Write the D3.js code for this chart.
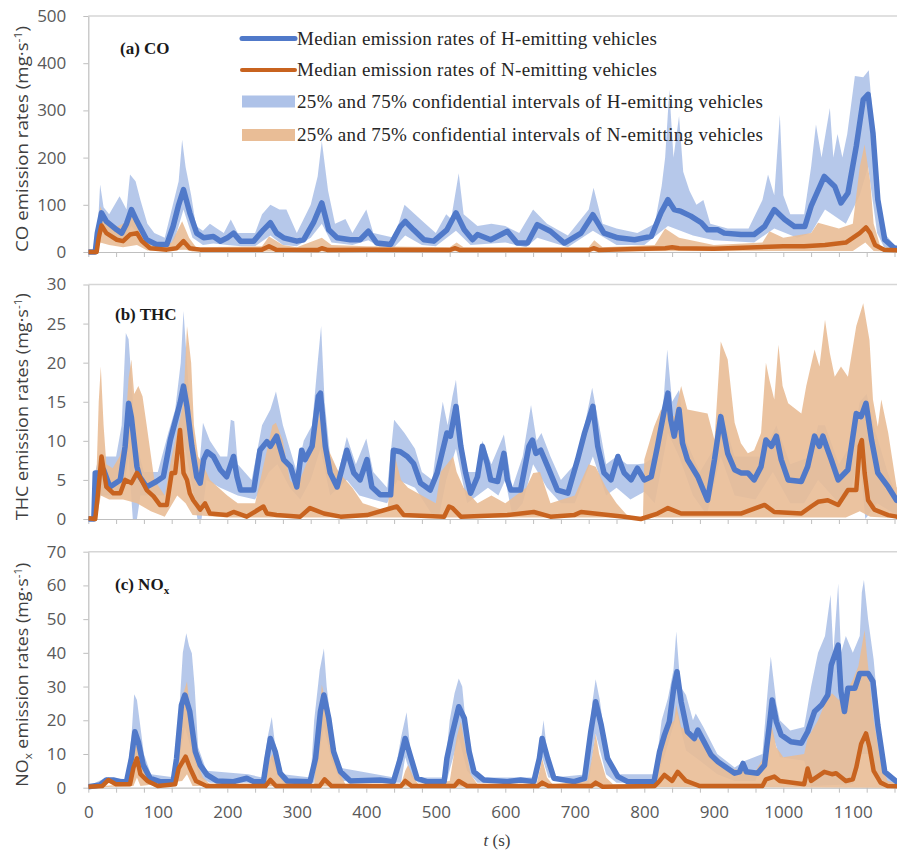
<!DOCTYPE html>
<html>
<head>
<meta charset="utf-8">
<script src="https://cdn.jsdelivr.net/npm/d3@7/dist/d3.min.js"></script>
<style>
  body { margin: 0; background: #fff; }
  svg { display: block; }
</style>
</head>
<body>
<svg id="chart" width="897" height="851"></svg>
<script>
// ── Data: [t (s), rate (mg/s)] ──────────────────────────────────────────

// (a) CO
const coHMed = [[0,0],[10,0],[13,40],[19,83],[26,65],[41,47],[48,40],[55,60],[62,90],[70,65],[84,26],[98,16],[113,16],[122,54],[130,100],[137,132],[146,83],[156,40],[166,30],[180,33],[190,23],[200,30],[209,40],[219,23],[238,23],[252,47],[262,62],[271,40],[281,30],[300,23],[310,26],[324,62],[336,104],[346,47],[358,30],[377,26],[391,26],[403,44],[415,19],[435,16],[449,54],[456,65],[468,47],[483,26],[497,23],[516,47],[529,83],[541,47],[553,26],[560,37],[579,26],[603,44],[617,19],[632,19],[646,58],[665,44],[685,19],[709,40],[726,79],[742,40],[762,30],[786,26],[810,33],[824,83],[834,111],[843,90],[853,86],[867,76],[882,62],[891,47],[906,47],[915,40],[939,37],[958,37],[973,54],[987,90],[1002,69],[1016,54],[1031,54],[1040,97],[1059,160],[1074,139],[1083,104],[1093,125],[1105,224],[1115,323],[1122,334],[1129,252],[1136,111],[1146,26],[1160,8],[1180,5]];
const coHHi = [[0,0],[10,0],[14,60],[17,143],[22,95],[30,80],[45,118],[55,90],[60,164],[68,150],[75,110],[85,60],[95,40],[110,30],[120,90],[130,150],[135,238],[140,180],[148,120],[155,55],[165,45],[175,60],[185,50],[195,40],[205,69],[215,40],[240,40],[250,80],[262,100],[275,90],[285,90],[300,40],[320,100],[330,160],[336,235],[345,130],[355,60],[370,70],[380,40],[400,90],[410,40],[440,30],[455,100],[470,80],[485,60],[500,40],[515,80],[522,70],[533,167],[540,80],[560,55],[580,60],[600,55],[620,40],[640,90],[660,60],[690,35],[720,90],[727,136],[740,60],[760,50],[790,40],[815,60],[825,140],[830,200],[836,344],[842,200],[850,288],[856,170],[865,130],[875,100],[885,110],[895,60],[920,50],[950,50],[970,110],[978,164],[987,120],[995,291],[1000,120],[1010,80],[1030,80],[1040,180],[1047,270],[1055,200],[1067,305],[1072,200],[1078,250],[1085,200],[1092,250],[1103,373],[1115,370],[1123,385],[1128,300],[1135,150],[1145,40],[1160,15],[1180,10]];
const coHLo = [[0,0],[12,0],[17,50],[25,40],[40,30],[50,25],[62,55],[70,40],[85,12],[100,8],[115,8],[125,30],[137,90],[150,30],[165,15],[180,18],[200,15],[220,12],[240,12],[262,35],[280,15],[300,12],[320,30],[336,60],[350,20],[380,15],[403,25],[420,10],[440,10],[456,35],[480,15],[500,12],[529,45],[550,15],[600,20],[630,10],[646,30],[690,10],[726,45],[760,15],[800,15],[834,55],[870,35],[900,25],[958,20],[987,50],[1020,30],[1040,40],[1060,90],[1090,60],[1110,120],[1122,180],[1135,40],[1145,10],[1165,3],[1180,2]];
const coNMed = [[0,0],[12,0],[15,30],[19,56],[26,40],[41,26],[50,23],[60,37],[70,40],[77,23],[89,8],[113,5],[127,8],[137,23],[146,8],[161,5],[250,5],[260,12],[270,5],[330,4],[336,8],[345,4],[405,5],[520,4],[528,8],[535,4],[720,4],[727,8],[735,4],[830,8],[840,10],[850,8],[900,7],[1000,12],[1030,12],[1060,15],[1090,20],[1100,30],[1110,40],[1119,52],[1125,40],[1132,15],[1145,5],[1180,3]];
const coNHi = [[0,0],[12,0],[14,40],[17,97],[25,70],[35,50],[50,60],[60,75],[67,79],[75,50],[85,20],[100,10],[120,20],[135,65],[145,30],[155,10],[250,12],[260,33],[280,15],[300,10],[336,30],[350,15],[400,12],[520,10],[530,20],[540,10],[720,10],[728,25],[740,10],[815,15],[830,50],[850,30],[900,15],[970,20],[980,44],[1000,30],[1040,40],[1050,62],[1080,50],[1100,60],[1110,180],[1117,228],[1125,150],[1130,60],[1140,10],[1180,5]];
const coNLo = [[0,0],[12,0],[17,20],[30,15],[50,10],[70,15],[85,3],[140,5],[150,1],[1100,2],[1118,20],[1130,2],[1180,0]];

// (b) THC
const thcHMed = [[0,0],[8,0],[10,5.9],[17,5.9],[22,6.3],[31,4.1],[46,5],[53,9.3],[58,14.8],[62,13],[70,6.7],[74,5.4],[84,4.1],[98,4.8],[108,5.4],[118,10.1],[132,14.8],[137,17],[142,14.4],[149,9.3],[156,5.4],[161,4.6],[166,7.6],[171,8.6],[180,8],[190,6.3],[199,5.4],[209,8],[214,5.4],[219,3.7],[238,3.7],[247,8.8],[257,9.9],[262,9.3],[271,10.6],[281,7.6],[291,6.7],[300,4.1],[307,8.8],[312,7.6],[322,9.3],[331,15.7],[334,16.1],[341,9.3],[348,5.9],[358,4.1],[372,8.8],[382,5.9],[391,5],[401,7.6],[408,4.1],[420,3.1],[435,3.1],[439,8.8],[449,8.6],[459,8],[468,7.1],[478,4.6],[492,3.7],[502,5.9],[516,11],[521,10.6],[529,14.4],[536,9.3],[543,5.9],[550,3.3],[560,5.4],[567,9.3],[574,7.1],[579,5],[589,4.8],[598,8.4],[603,5],[608,3.7],[622,3.7],[634,9.3],[639,10.1],[644,8.4],[651,8.8],[661,6.7],[675,3.7],[690,3.3],[704,7.6],[714,11],[726,14.4],[733,9.3],[742,5.9],[752,5],[762,8],[771,5.9],[781,5],[790,6.5],[800,5],[810,5.4],[819,9.3],[829,14],[834,16.1],[838,12.7],[843,10.6],[850,14],[855,9.7],[862,7.6],[877,5.4],[891,2.4],[901,7.6],[910,13.1],[920,8.4],[930,6.3],[939,5.9],[949,5.9],[958,5],[968,6.7],[975,10.1],[983,9.3],[990,10.6],[997,7.6],[1007,5],[1026,4.8],[1035,6.7],[1045,10.6],[1052,9.3],[1057,10.6],[1064,8.8],[1069,7.6],[1079,5],[1093,6.3],[1105,13.5],[1112,13.1],[1119,14.8],[1127,10.1],[1136,5.9],[1151,4.1],[1163,2.4],[1180,2]];
const thcHHi = [[0,0],[8,0],[10,6],[15,8],[40,8],[48,12],[54,23.8],[58,23],[62,18],[68,10],[80,6],[100,6],[115,11],[125,14],[133,20],[137,26.6],[142,20],[150,10],[160,7],[165,12.3],[175,10],[190,8],[200,8],[205,12.7],[210,12.5],[215,7],[235,5],[250,12],[262,14],[270,16.3],[280,12],[290,9],[300,6],[310,10],[322,12],[330,20],[335,24.7],[340,15],[348,8],[360,6],[372,10.5],[385,7],[400,10.3],[410,6],[430,4],[440,12.7],[455,11],[470,9],[480,6],[495,5],[505,12],[510,15],[517,12],[524,15.7],[529,17.8],[535,12],[545,6],[560,6],[567,10],[580,7],[598,10.8],[610,4],[625,8],[637,14.6],[645,10],[652,11],[665,8],[680,5],[700,7],[712,11],[725,16.8],[735,12],[745,7],[760,8],[775,7],[790,7],[800,7.1],[815,8],[825,12],[833,21.7],[840,15],[850,16.5],[860,10],[880,6],[900,9],[910,14],[930,8],[970,8],[990,12],[1010,7],[1040,8],[1050,12],[1060,12],[1080,7],[1100,10],[1110,15],[1120,16],[1130,12],[1150,6],[1163,3],[1180,2.5]];
const thcHLo = [[0,0],[8,0],[10,3],[30,3],[50,3],[58,8],[64,0],[70,0],[75,3],[90,3],[110,3],[125,6],[137,10],[150,4],[157,0],[163,0],[170,5],[190,4],[215,3],[240,2.5],[260,6],[272,7],[290,4],[305,2.5],[320,5],[334,9],[348,3],[372,5],[390,3],[410,2.5],[430,2],[445,5],[470,4],[495,0.5],[505,0.5],[515,5],[529,9],[545,2],[560,3],[575,4],[590,3],[600,5],[610,0.5],[625,2],[640,7],[660,4],[680,2],[700,2],[726,8],[745,3],[760,4],[780,2.5],[800,3.5],[815,2],[834,11],[850,8],[870,3],[890,0.5],[910,8],[930,3],[960,2.5],[985,6],[1010,2],[1030,2],[1050,5],[1080,2],[1095,3],[1110,8],[1118,0],[1135,2],[1163,0.5],[1180,0.3]];
const thcNMed = [[0,0.1],[10,0],[14,3.3],[19,8],[26,4.1],[36,3.3],[46,3.3],[53,5],[62,4.6],[70,5.9],[74,5.4],[84,3.7],[94,2.9],[103,1.8],[113,1.8],[120,5.9],[125,5.9],[132,11.4],[137,5.9],[142,5],[146,3.3],[151,2.4],[161,1.2],[168,2],[175,0.7],[199,0.5],[209,0.9],[228,0.3],[252,1.6],[257,0.7],[271,0.5],[305,0.3],[319,1.4],[339,0.7],[363,0.3],[401,0.5],[444,1.6],[454,0.5],[512,0.3],[519,1.6],[524,1.4],[536,0.3],[603,0.5],[641,0.9],[665,0.3],[699,0.5],[709,0.9],[771,0.3],[795,0],[819,0.7],[834,1.4],[853,0.7],[939,0.7],[973,1.8],[987,0.9],[1026,0.7],[1040,1.6],[1050,2.2],[1064,2.4],[1079,1.8],[1093,3.7],[1105,3.7],[1110,9.3],[1113,10.1],[1117,5.9],[1122,2.4],[1131,1.2],[1151,0.5],[1163,0.3],[1180,0.3]];
const thcNHi = [[0,0],[10,0.5],[15,15],[18,19.5],[22,12],[26,7],[35,6.5],[45,8],[52,10],[58,18],[62,20.4],[66,16],[72,17],[78,15.7],[84,12],[95,5],[110,3],[120,8],[130,12],[137,15],[142,24.7],[148,20],[152,12],[158,8],[165,7],[175,5],[200,3],[215,2],[240,2],[255,8],[265,12],[270,12.3],[280,10],[290,5],[300,4],[318,8],[325,10],[334,14],[345,9],[360,6],[380,4],[395,2],[430,1],[440,8.4],[450,5],[460,4],[500,2],[507,6],[525,8],[530,6],[540,4],[560,2],[580,3],[600,2],[630,4],[640,5.9],[650,6],[665,2],[700,3],[720,7],[730,6.7],[745,4],[760,2],[775,0.5],[798,0],[800,7.6],[814,11.8],[824,14],[843,13.1],[853,17],[862,14],[891,13.5],[901,10.1],[910,22.7],[920,20.4],[930,12.3],[939,9.7],[949,8.4],[958,8.8],[968,11],[975,20],[980,17.8],[987,15.3],[993,22.3],[999,17],[1007,14.8],[1026,13.5],[1033,17],[1045,21.7],[1052,19.5],[1060,25.5],[1067,21.2],[1074,18.2],[1083,19.5],[1093,18.2],[1105,24.7],[1115,27.6],[1124,22.9],[1129,15.3],[1136,11.8],[1141,15.3],[1151,11],[1163,4.1],[1180,2]];
const thcNLo = [[0,0],[12,0],[18,3],[30,2.5],[50,2.5],[70,2],[90,1],[110,0.3],[128,3],[140,2],[150,0.5],[200,0.2],[1090,0.2],[1110,1],[1125,0.3],[1180,0]];

// (c) NOx
const noxHMed = [[0,0.3],[17,0.8],[26,2.3],[36,2.3],[46,1.8],[55,1.8],[62,8.7],[67,16.6],[72,13.6],[79,6.7],[89,2.8],[103,1.8],[122,1.8],[127,8.7],[134,24.5],[139,27.5],[146,22.6],[154,10.7],[161,6.7],[171,3.8],[185,2],[209,1.8],[228,2.8],[238,1.8],[252,1.8],[257,8.7],[262,14.6],[269,10.7],[276,4.3],[286,2],[319,1.8],[327,8.7],[334,22.6],[339,27.5],[346,20.6],[353,10.7],[363,4.7],[377,2],[420,2.3],[439,1.8],[449,8.7],[456,14.6],[463,9.7],[473,2.8],[487,1.8],[512,1.8],[516,8.7],[522,14.6],[533,24],[541,20.6],[548,10.7],[555,4.7],[569,2.3],[603,1.8],[622,2.3],[641,1.8],[649,8.7],[653,14.6],[661,8.7],[670,2.8],[699,1.8],[714,2.8],[723,16.6],[730,25.5],[738,18.6],[747,8.7],[762,3.3],[776,1.8],[814,1.8],[822,10.7],[829,15.6],[836,19.6],[843,30.5],[847,34.4],[853,25.5],[862,16.6],[872,14.6],[877,17.1],[886,13.6],[896,9.7],[906,7.7],[920,5.7],[930,4.3],[937,4.7],[942,7.2],[947,4.7],[963,4.3],[973,6.7],[980,18.6],[984,26],[990,19.6],[997,15.6],[1011,13.6],[1026,13.2],[1035,16.6],[1045,22.6],[1055,24.5],[1064,27.5],[1069,36.4],[1079,42.3],[1083,28.5],[1088,22.6],[1093,29.5],[1103,29.5],[1110,33.9],[1122,33.9],[1129,31.5],[1136,18.6],[1146,4.7],[1163,1.8],[1180,1.5]];
const noxHHi = [[0,0.5],[26,3],[55,2.5],[62,15],[66,27.7],[70,26],[75,18],[80,10],[90,4],[125,3],[130,20],[136,40],[141,45.8],[145,42],[149,39.9],[153,30],[158,12],[170,5],[230,4],[250,3],[258,15],[264,21],[268,14],[280,4],[320,3],[325,20],[333,35],[339,41.3],[343,30],[350,18],[360,6],[440,3],[450,15],[458,22.4],[463,12],[475,3],[512,3],[520,20],[527,28],[533,32.4],[538,30],[545,15],[560,3],[645,3],[650,12],[655,20],[660,11],[670,3],[718,4],[725,25],[730,32.2],[736,26],[745,12],[760,4],[815,4],[825,20],[834,26.5],[842,35],[846,46.3],[852,30],[860,27.5],[870,20],[874,22],[885,18],[895,14],[905,10],[930,6],[945,8],[970,10],[978,30],[982,38.9],[990,25],[995,20],[1010,17],[1030,18],[1040,30],[1050,40],[1060,45],[1068,57.2],[1072,40],[1079,60.6],[1083,40],[1090,45],[1100,40],[1110,45],[1113,58],[1116,61.6],[1122,50],[1130,38],[1138,20],[1148,5],[1163,2],[1180,1.8]];
const noxHLo = [[0,0],[26,1.5],[60,1.5],[67,10],[72,8],[80,3],[90,1.5],[125,1.5],[139,18],[150,10],[160,3],[175,1.5],[255,1.5],[262,9],[270,5],[280,1.5],[325,1.5],[339,18],[350,8],[363,2],[450,1.5],[456,9],[465,3],[475,1.5],[515,1.5],[533,15],[545,5],[560,1.5],[645,1.5],[653,9],[662,3],[720,1.5],[730,16],[745,4],[760,1.5],[815,1.5],[830,10],[847,22],[860,11],[880,8],[905,4],[930,2],[960,2],[984,16],[995,9],[1030,8],[1040,0.5],[1100,1],[1110,10],[1125,10],[1140,2],[1163,0.5],[1180,0.3]];
const noxNMed = [[0,0.3],[20,0.5],[29,2.3],[40,1],[60,1],[65,6],[70,8.7],[75,4],[85,2],[100,0.5],[125,1],[130,5.7],[140,9.2],[146,6],[155,2],[170,0.5],[255,0.5],[262,2.3],[270,0.5],[333,0.5],[340,2.5],[350,0.5],[450,0.5],[456,2],[465,0.5],[527,0.5],[533,2],[545,0.5],[647,0.5],[653,1.5],[662,0.5],[724,0.5],[730,1.5],[740,0.3],[815,0.5],[822,2],[829,3.8],[840,2],[848,4.7],[860,2],[880,0.5],[970,0.5],[975,2.5],[987,3.3],[995,2],[1030,1],[1035,5.7],[1040,2],[1059,4.7],[1070,4],[1076,4.3],[1090,2],[1100,2.5],[1105,6],[1112,13],[1119,16.1],[1124,12],[1130,5],[1140,1.5],[1150,0.5],[1180,0.3]];
const noxNHi = [[0,0.3],[60,1],[65,10],[70,13.2],[75,9],[85,4],[100,1],[125,2],[130,10],[137,28],[142,31.5],[148,20],[155,8],[165,3],[175,1],[255,1],[260,8],[265,10],[272,7],[280,2],[325,1],[330,15],[336,30.5],[342,25],[350,12],[360,5],[370,1],[450,1],[456,5],[460,6.7],[468,3],[475,1],[520,2],[530,15],[536,19.6],[540,15],[550,4],[560,1],[645,1],[653,8.7],[660,3],[668,1],[718,2],[724,8],[730,16.1],[735,10],[745,3],[755,1],[815,1],[818,3],[824,12.2],[836,18.6],[843,20],[846,24.5],[853,18],[860,17],[875,15],[890,12],[900,10],[920,6],[940,5],[960,5],[975,10],[982,19.6],[990,12],[1000,9],[1030,10],[1035,14.6],[1050,20],[1060,25],[1070,28],[1080,26],[1090,28],[1100,32],[1108,36],[1117,46.8],[1120,40],[1125,30],[1130,20],[1140,8],[1150,2],[1180,0.5]];
const noxNLo = [[0,0],[65,0.5],[70,3],[75,0.5],[135,2],[142,4],[150,0.5],[1180,0]];

// Tick values
const xTickMarks = [0,40,80,120,160,200,240,280,320,360,400,440,480,520,560,600,640,680,720,760,800,840,880,920,960,1000,1040,1080,1120,1160];
const xTickLabels = [0,100,200,300,400,500,600,700,800,900,1000,1100];
const coTicks = [0,100,200,300,400,500];
const thcTicks = [0,5,10,15,20,25,30];
const noxTicks = [0,10,20,30,40,50,60,70];

const legendItems = [
  'Median emission rates of H-emitting vehicles',
  'Median emission rates of N-emitting vehicles',
  '25% and 75% confidential intervals of H-emitting vehicles',
  '25% and 75% confidential intervals of N-emitting vehicles'
];

// ── Styling / layout ─────────────────────────────────────────────────────
const C = {
  hLine: '#5079c9', hBand: '#aec2e8',
  nLine: '#c8631f', nBand: '#e9bd96',
  axis: '#bfbfbf', tick: '#595959', title: '#404040'
};
const X0 = 88.3, PX_PER_S = 0.695;

const svg = d3.select('#chart');
const x = d3.scaleLinear().domain([0, 1180]).range([X0, X0 + 1180 * PX_PER_S]);

const panels = [
  { top: 16, bottom: 252, ticks: coTicks, label: [['(a) CO', '']], lx: 120, ly: 54,
    title: [['CO emission rates (mg·s', ''], ['-1', 'sup'], [')', '']], tLen: 226,
    hMed: coHMed, hHi: coHHi, hLo: coHLo, nMed: coNMed, nHi: coNHi, nLo: coNLo },
  { top: 284.5, bottom: 519, ticks: thcTicks, label: [['(b) THC', '']], lx: 115, ly: 320,
    title: [['THC emission rates (mg·s', ''], ['-1', 'sup'], [')', '']], tLen: 227,
    hMed: thcHMed, hHi: thcHHi, hLo: thcHLo, nMed: thcNMed, nHi: thcNHi, nLo: thcNLo },
  { top: 551.7, bottom: 787.7, ticks: noxTicks, label: [['(c) NO', ''], ['x', 'sub']], lx: 115, ly: 590,
    title: [['NO', ''], ['x', 'sub'], [' emission rates (mg·s', ''], ['-1', 'sup'], [')', '']], tLen: 224,
    hMed: noxHMed, hHi: noxHHi, hLo: noxHLo, nMed: noxNMed, nHi: noxNHi, nLo: noxNLo }
];

// text runs with super/subscripts; the shift is undone on the following run
function addRuns(sel, parts, size) {
  let undo = 0;
  parts.forEach(([txt, kind]) => {
    const t = sel.append('tspan').text(txt);
    let shift = 0;
    if (kind === 'sup') shift = -size * 0.38;
    if (kind === 'sub') shift = size * 0.25;
    if (kind) t.attr('font-size', size * 0.65);
    if (shift + undo !== 0) t.attr('dy', shift + undo);
    undo = -shift;
  });
}

panels.forEach((p, i) => {
  const y = d3.scaleLinear().domain([0, d3.max(p.ticks)]).range([p.bottom, p.top]);
  const g = svg.append('g');

  // frame: top border, axes
  g.append('line')
    .attr('x1', X0).attr('x2', 897).attr('y1', p.top).attr('y2', p.top)
    .attr('stroke', '#d6d6d6').attr('stroke-width', 1.5);

  const yAx = g.append('g').attr('transform', `translate(${X0},0)`)
    .call(d3.axisLeft(y).tickValues(p.ticks).tickSize(5).tickPadding(17).tickSizeOuter(0));
  const xAx = g.append('g').attr('transform', `translate(0,${p.bottom})`)
    .call(d3.axisBottom(x).tickValues(xTickMarks).tickSize(5).tickFormat('').tickSizeOuter(0));
  xAx.selectAll('.tick text').remove();
  [yAx, xAx].forEach(a => {
    a.select('.domain').attr('stroke', C.axis).attr('stroke-width', 1.2);
    a.selectAll('.tick line').attr('stroke', C.axis);
  });
  yAx.selectAll('text').attr('font-family', '"Open Sans", sans-serif')
    .attr('font-size', 17).attr('fill', C.tick);

  if (i === panels.length - 1) {
    const lab = g.append('g').attr('transform', `translate(0,${p.bottom})`)
      .call(d3.axisBottom(x).tickValues(xTickLabels).tickFormat(d3.format('d'))
        .tickSize(0).tickPadding(18));
    lab.select('.domain').remove();
    lab.selectAll('text').attr('font-family', '"Open Sans", sans-serif')
      .attr('font-size', 17).attr('fill', C.tick);
  }

  // clip
  const clipId = 'clip' + i;
  svg.append('clipPath').attr('id', clipId).append('rect')
    .attr('x', X0).attr('y', p.top - 4).attr('width', 897 - X0).attr('height', p.bottom - p.top + 8);
  const plot = g.append('g').attr('clip-path', `url(#${clipId})`);

  const band = d3.line().x(d => x(d[0])).y(d => y(d[1])).curve(d3.curveLinearClosed);
  const line = d3.line().x(d => x(d[0])).y(d => y(d[1]));

  plot.append('path').attr('d', band(p.hHi.concat(p.hLo.slice().reverse())))
    .attr('fill', C.hBand).attr('fill-opacity', 0.9);
  plot.append('path').attr('d', band(p.nHi.concat(p.nLo.slice().reverse())))
    .attr('fill', C.nBand).attr('fill-opacity', 0.9);
  plot.append('path').attr('d', line(p.hMed))
    .attr('fill', 'none').attr('stroke', C.hLine).attr('stroke-width', 5.5)
    .attr('stroke-linejoin', 'round');
  plot.append('path').attr('d', line(p.nMed))
    .attr('fill', 'none').attr('stroke', C.nLine).attr('stroke-width', 4.5)
    .attr('stroke-linejoin', 'round');

  // panel label
  const lbl = g.append('text').attr('x', p.lx).attr('y', p.ly)
    .attr('font-family', '"Liberation Serif", "Times New Roman", serif')
    .attr('font-weight', 'bold').attr('font-size', 17).attr('fill', '#1a1a1a');
  addRuns(lbl, p.label, 17);

  // y-axis title
  const cy = (p.top + p.bottom) / 2 + 5;
  const ttl = g.append('text')
    .attr('transform', `translate(28,${cy}) rotate(-90)`)
    .attr('text-anchor', 'middle')
    .attr('font-family', '"Open Sans", sans-serif')
    .attr('font-size', 16).attr('fill', C.title)
    .attr('textLength', p.tLen).attr('lengthAdjust', 'spacingAndGlyphs');
  addRuns(ttl, p.title, 16);
});

// x-axis title
const xt = svg.append('text').attr('x', 497).attr('y', 846).attr('text-anchor', 'middle')
  .attr('font-family', '"Liberation Serif", "Times New Roman", serif')
  .attr('font-size', 17).attr('fill', C.title);
xt.append('tspan').attr('font-style', 'italic').text('t');
xt.append('tspan').text(' (s)');

// legend
const lg = svg.append('g');
const rowsY = [38.5, 70, 101.5, 135];
const legX1 = 242, legX2 = 295;
lg.append('line').attr('x1', legX1).attr('x2', legX2).attr('y1', rowsY[0]).attr('y2', rowsY[0])
  .attr('stroke', C.hLine).attr('stroke-width', 5).attr('stroke-linecap', 'round');
lg.append('line').attr('x1', legX1).attr('x2', legX2).attr('y1', rowsY[1]).attr('y2', rowsY[1])
  .attr('stroke', C.nLine).attr('stroke-width', 4).attr('stroke-linecap', 'round');
lg.append('rect').attr('x', legX1).attr('y', rowsY[2] - 6).attr('width', legX2 - legX1).attr('height', 12)
  .attr('fill', C.hBand);
lg.append('rect').attr('x', legX1).attr('y', rowsY[3] - 6).attr('width', legX2 - legX1).attr('height', 12)
  .attr('fill', C.nBand);
const legLens = [360, 360, 466, 466];
legendItems.forEach((t, i) => {
  lg.append('text').attr('x', 297).attr('y', rowsY[i] + 6)
    .attr('font-family', '"Liberation Serif", "Times New Roman", serif')
    .attr('font-size', 19).attr('fill', '#262626')
    .attr('textLength', legLens[i]).attr('lengthAdjust', 'spacing')
    .text(t);
});
</script>
</body>
</html>
